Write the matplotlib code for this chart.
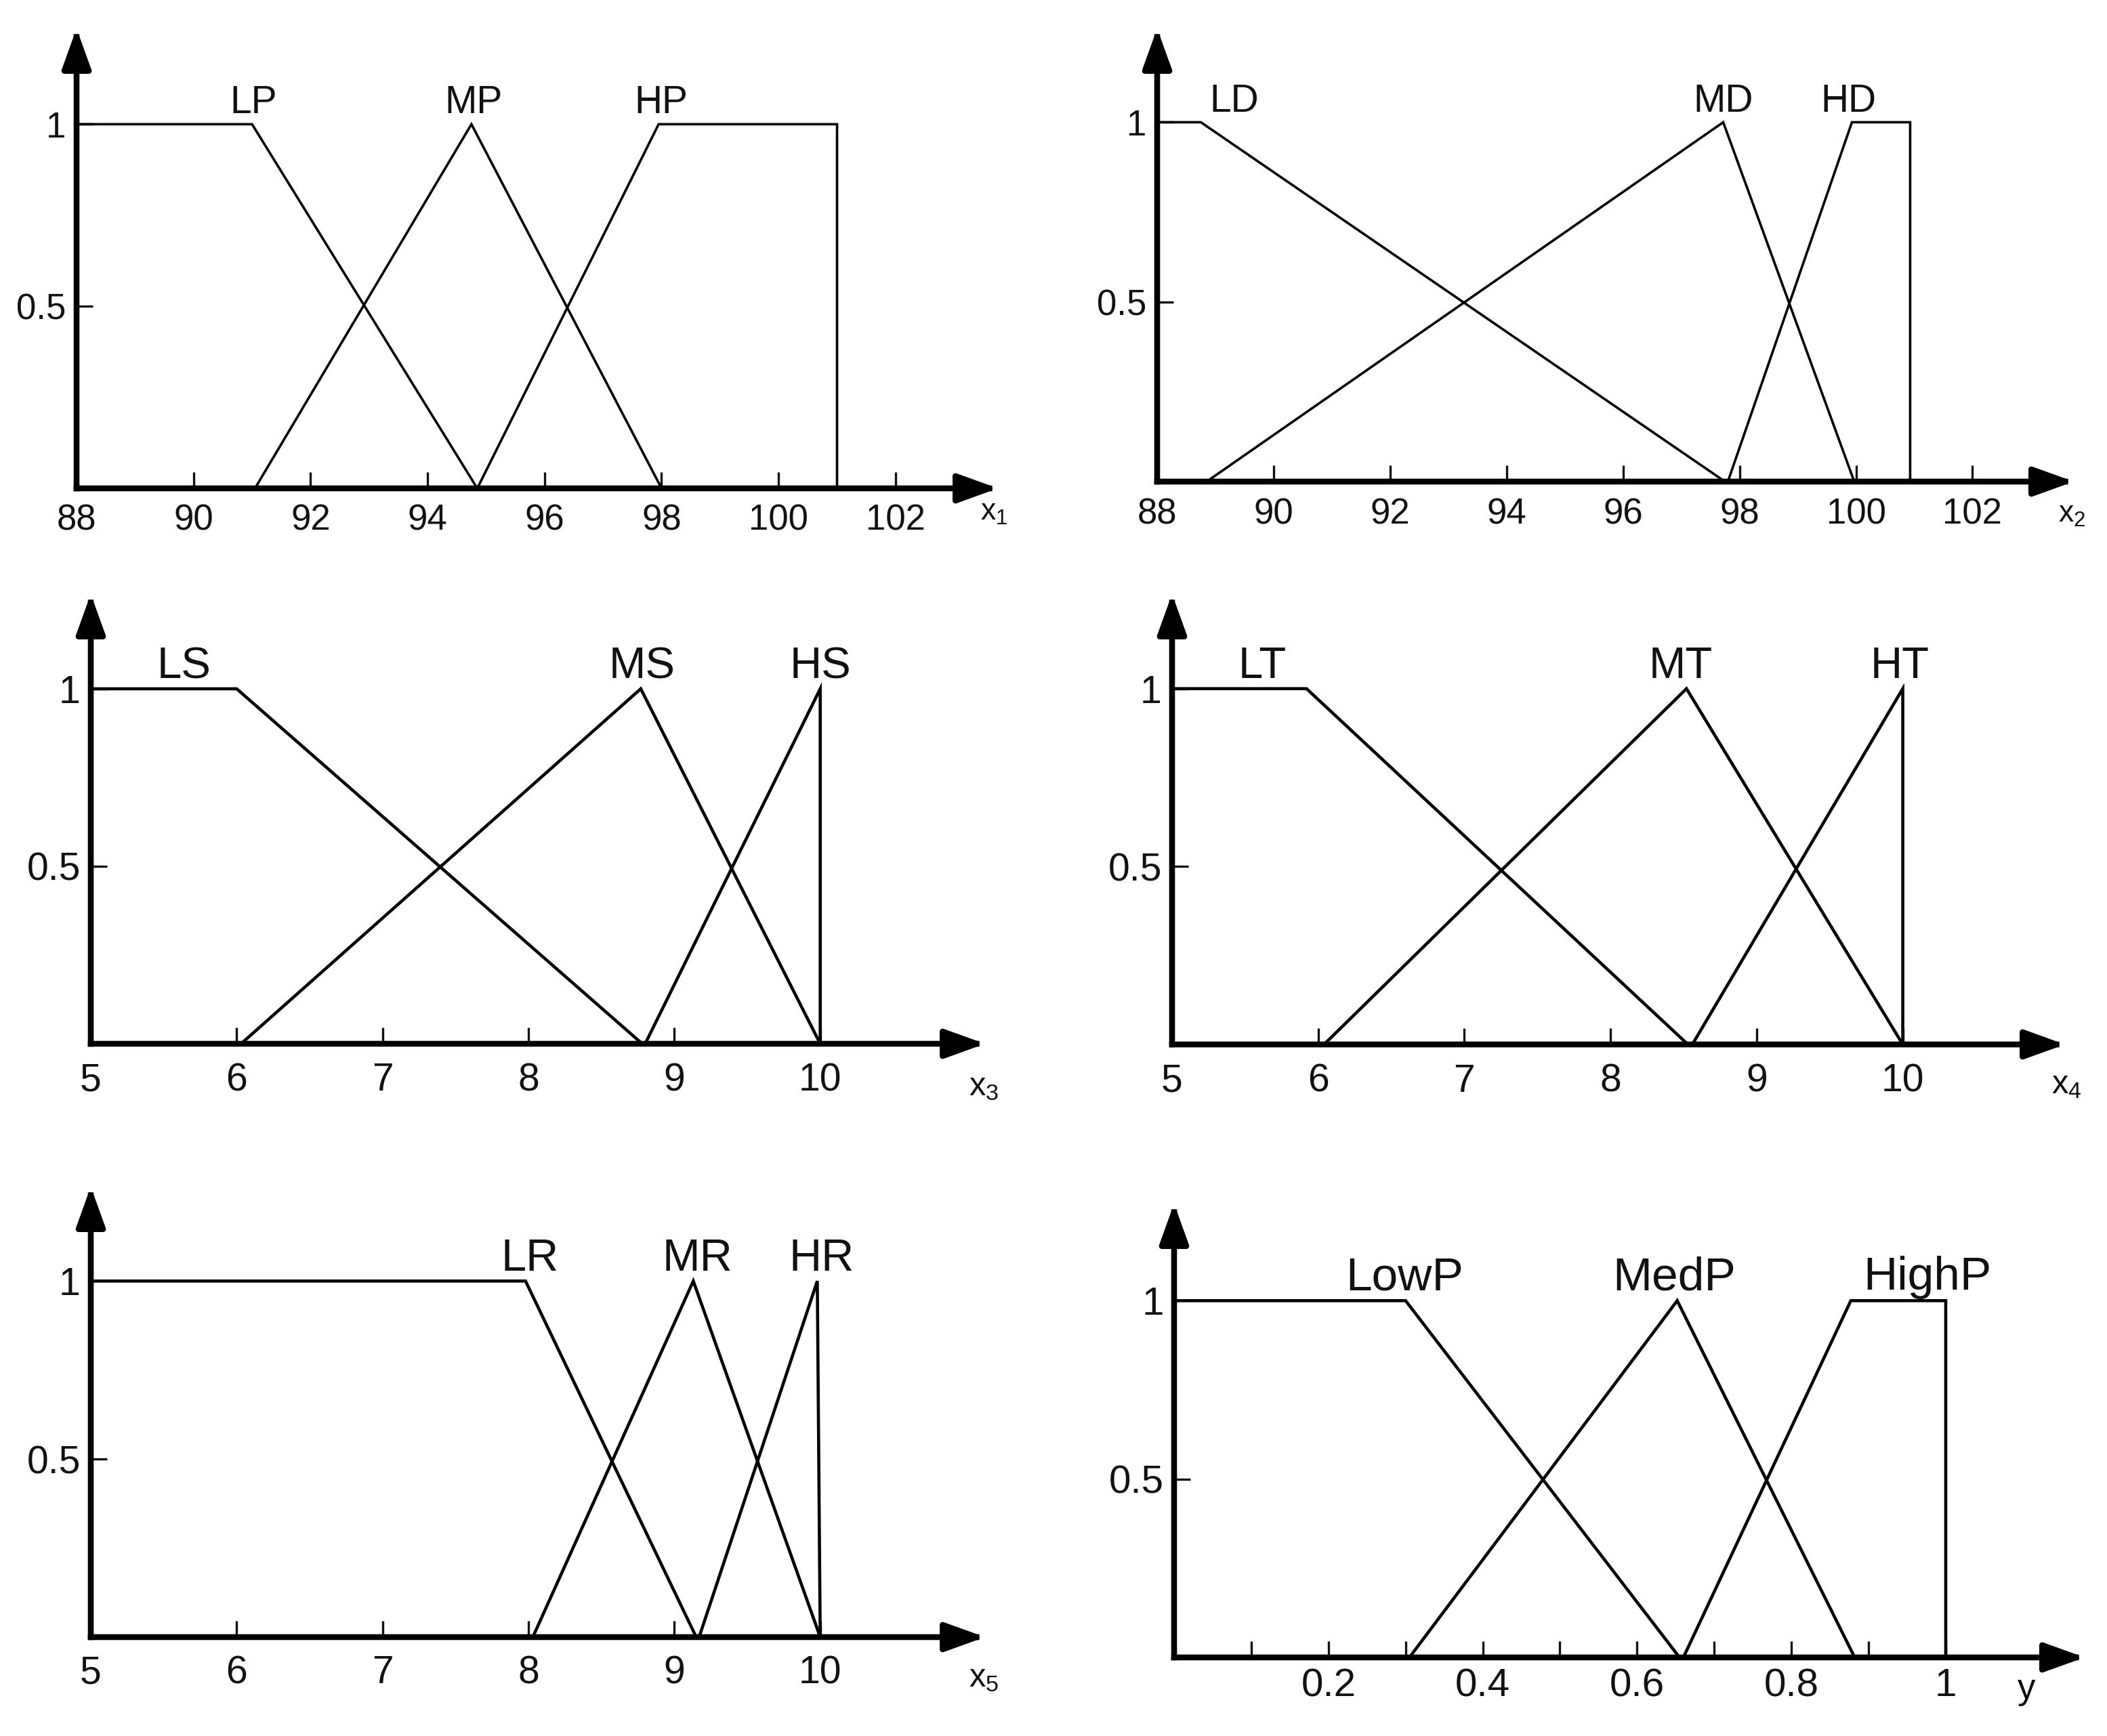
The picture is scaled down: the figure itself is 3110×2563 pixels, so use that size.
import matplotlib.pyplot as plt
from matplotlib.patches import ArrowStyle

plt.rcParams['font.family'] = ['Liberation Sans', 'DejaVu Sans']
plt.rcParams['mathtext.fontset'] = 'custom'
plt.rcParams['mathtext.rm'] = 'Liberation Sans'
plt.rcParams['mathtext.it'] = 'Liberation Sans'
plt.rcParams['mathtext.default'] = 'regular'

# ---- x1 : LP / MP / HP
x1_ticks = [88, 90, 92, 94, 96, 98, 100, 102]
lp_x = [88, 91.0, 94.85]
lp_y = [1, 1, 0]
mp_x = [91.05, 94.75, 98.0]
mp_y = [0, 1, 0]
hp_x = [94.85, 97.95, 101.0, 101.0]
hp_y = [0, 1, 1, 0]
x1_names = ['LP', 'MP', 'HP']
x1_name_x = [91.03, 94.79, 97.99]

# ---- x2 : LD / MD / HD
x2_ticks = [88, 90, 92, 94, 96, 98, 100, 102]
ld_x = [88, 88.75, 97.75]
ld_y = [1, 1, 0]
md_x = [88.85, 97.72, 99.97]
md_y = [0, 1, 0]
hd_x = [97.8, 99.93, 100.93, 100.93]
hd_y = [0, 1, 1, 0]
x2_names = ['LD', 'MD', 'HD']
x2_name_x = [89.32, 97.72, 99.87]

# ---- x3 : LS / MS / HS
x3_ticks = [5, 6, 7, 8, 9, 10]
ls_x = [5, 6.0, 8.78]
ls_y = [1, 1, 0]
ms_x = [6.03, 8.77, 10.0]
ms_y = [0, 1, 0]
hs_x = [8.8, 10.0, 10.0]
hs_y = [0, 1, 0]
x3_names = ['LS', 'MS', 'HS']
x3_name_x = [5.64, 8.78, 10.0]

# ---- x4 : LT / MT / HT
x4_ticks = [5, 6, 7, 8, 9, 10]
lt_x = [5, 5.92, 8.53]
lt_y = [1, 1, 0]
mt_x = [6.04, 8.52, 10.0]
mt_y = [0, 1, 0]
ht_x = [8.56, 10.0, 10.0]
ht_y = [0, 1, 0]
x4_names = ['LT', 'MT', 'HT']
x4_name_x = [5.62, 8.48, 9.98]

# ---- x5 : LR / MR / HR
x5_ticks = [5, 6, 7, 8, 9, 10]
lr_x = [5, 7.98, 9.15]
lr_y = [1, 1, 0]
mr_x = [8.03, 9.13, 10.0]
mr_y = [0, 1, 0]
hr_x = [9.17, 9.98, 10.0]
hr_y = [0, 1, 0]
x5_names = ['LR', 'MR', 'HR']
x5_name_x = [8.01, 9.16, 10.01]

# ---- y : LowP / MedP / HighP
y_ticks = [0.1, 0.2, 0.3, 0.4, 0.5, 0.6, 0.7, 0.8, 0.9, 1.0]
y_ticklabels = ['', '0.2', '', '0.4', '', '0.6', '', '0.8', '', '1']
lowp_x = [0, 0.3, 0.655]
lowp_y = [1, 1, 0]
medp_x = [0.305, 0.652, 0.882]
medp_y = [0, 1, 0]
highp_x = [0.66, 0.877, 1.0, 1.0]
highp_y = [0, 1, 1, 0]
y_names = ['LowP', 'MedP', 'HighP']
y_name_x = [0.299, 0.648, 0.976]

membership_ticks = [0.5, 1]
membership_labels = ['0.5', '1']

panels = [
    dict(xlim=(88, 103.75), ytop=1.263, ticks=x1_ticks, ticklabels=[str(t) for t in x1_ticks],
         curves=[(lp_x, lp_y), (mp_x, mp_y), (hp_x, hp_y)], names=x1_names, name_x=x1_name_x,
         var='x$_1$'),
    dict(xlim=(88, 103.74), ytop=1.261, ticks=x2_ticks, ticklabels=[str(t) for t in x2_ticks],
         curves=[(ld_x, ld_y), (md_x, md_y), (hd_x, hd_y)], names=x2_names, name_x=x2_name_x,
         var='x$_2$'),
    dict(xlim=(5, 11.13), ytop=1.267, ticks=x3_ticks, ticklabels=[str(t) for t in x3_ticks],
         curves=[(ls_x, ls_y), (ms_x, ms_y), (hs_x, hs_y)], names=x3_names, name_x=x3_name_x,
         var='x$_3$'),
    dict(xlim=(5, 11.11), ytop=1.266, ticks=x4_ticks, ticklabels=[str(t) for t in x4_ticks],
         curves=[(lt_x, lt_y), (mt_x, mt_y), (ht_x, ht_y)], names=x4_names, name_x=x4_name_x,
         var='x$_4$'),
    dict(xlim=(5, 11.13), ytop=1.265, ticks=x5_ticks, ticklabels=[str(t) for t in x5_ticks],
         curves=[(lr_x, lr_y), (mr_x, mr_y), (hr_x, hr_y)], names=x5_names, name_x=x5_name_x,
         var='x$_5$'),
    dict(xlim=(0, 1.18), ytop=1.272, ticks=y_ticks, ticklabels=y_ticklabels,
         curves=[(lowp_x, lowp_y), (medp_x, medp_y), (highp_x, highp_y)], names=y_names,
         name_x=y_name_x, var='y'),
]

# layout in pixels: origin x, origin y (x axis line), arrow tip x, arrow tip y
boxes = [(113, 721, 1473, 42), (1708, 711, 3061, 42), (134, 1541, 1454, 877),
         (1730, 1542, 3048, 877), (134, 2417, 1454, 1752), (1733, 2447, 3077, 1777)]
xpads = [16.5, 17, 19.5, 20, 19, 11]
var_pos = [(0.981, -0.069), (0.983, -0.090), (0.982, -0.115),
           (0.985, -0.108), (0.982, -0.110), (0.926, -0.091)]
name_sizes = [41, 41, 47, 47, 48, 50]
tick_sizes = [38, 38, 41, 41, 41, 42]
var_sizes = [32, 32, 35, 35, 35, 38]
curve_lw = [2.6, 2.6, 3.3, 3.3, 3.3, 3.3]

W, H = 3110, 2563
fig = plt.figure(figsize=(W / 100, H / 100), dpi=100)
ink = '#111111'

for i, p in enumerate(panels):
    ox, oy, tx, ty = boxes[i]
    ax = fig.add_axes([ox / W, 1 - oy / H, (tx - ox) / W, (oy - ty) / H])
    ax.set_xlim(*p['xlim'])
    ax.set_ylim(0, p['ytop'])
    for s in ax.spines.values():
        s.set_visible(False)
    ax.patch.set_visible(False)

    for cx, cy in p['curves']:
        ax.plot(cx, cy, color='k', lw=curve_lw[i], clip_on=False, solid_joinstyle='miter')

    for name, nx in zip(p['names'], p['name_x']):
        ax.text(nx, 1.03, name, ha='center', va='baseline', fontsize=name_sizes[i], color=ink)

    ax.set_xticks(p['ticks'])
    ax.set_xticklabels(p['ticklabels'])
    ax.set_yticks(membership_ticks)
    ax.set_yticklabels(membership_labels)
    ax.tick_params(axis='x', direction='in', length=17, width=2.4, pad=xpads[i],
                   labelsize=tick_sizes[i], colors=ink)
    ax.tick_params(axis='y', direction='in', length=17, width=2.4, pad=11,
                   labelsize=tick_sizes[i], colors=ink)

    head = ArrowStyle('-|>', head_length=36, head_width=13)
    for end in [(1, 0), (0, 1)]:
        ax.annotate('', xy=end, xytext=(0, 0), xycoords='axes fraction',
                    arrowprops=dict(arrowstyle=head, mutation_scale=1, lw=6.2, color='k',
                                    shrinkA=0, shrinkB=0, capstyle='projecting'))

    vx, vy = var_pos[i]
    ax.text(vx, vy, p['var'], transform=ax.transAxes, ha='left', va='baseline',
            fontsize=var_sizes[i], color=ink)

fig.savefig('out.png', dpi=100)
